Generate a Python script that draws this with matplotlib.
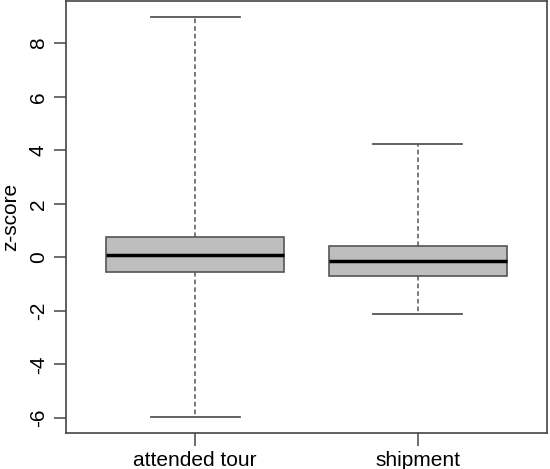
import matplotlib.pyplot as plt

# dati (statistiche del boxplot)
labels = ['attended tour', 'shipment']
whislo = [-5.95, -2.12]
q1 = [-0.55, -0.69]
med = [0.10, -0.14]
q3 = [0.78, 0.44]
whishi = [8.98, 4.24]
yticks = [-6, -4, -2, 0, 2, 4, 6, 8]

plt.rcParams['font.family'] = ['Liberation Sans', 'DejaVu Sans']

fig = plt.figure(figsize=(5.5, 4.69), dpi=100)
ax = fig.add_axes([0.12, 0.0768, 0.8745, 0.9212])

stats = []
for i in range(len(labels)):
    stats.append(dict(label=labels[i], whislo=whislo[i], q1=q1[i], med=med[i],
                      q3=q3[i], whishi=whishi[i], fliers=[]))

edge = '#555555'
ax.bxp(stats, positions=[1, 2], widths=0.8, patch_artist=True, showfliers=False,
       boxprops=dict(facecolor='#bebebe', edgecolor=edge, linewidth=1.2),
       medianprops=dict(color='black', linewidth=2.5),
       whiskerprops=dict(color=edge, linestyle=(0, (3, 2)), linewidth=1.1),
       capprops=dict(color=edge, linewidth=1.3),
       capwidths=0.4)

ax.set_xlim(0.42, 2.58)
ax.set_ylim(-6.56, 9.58)
ax.set_yticks(yticks)
ax.set_yticklabels([str(v) for v in yticks], rotation=90, va='center')
ax.set_ylabel('z-score', fontsize=15, labelpad=6)

for s in ax.spines.values():
    s.set_color('#444444')
    s.set_linewidth(1.2)
ax.tick_params(colors='#444444', labelcolor='black', length=9, width=1.1,
               labelsize=15, pad=4)

fig.savefig('out.png', dpi=100)
